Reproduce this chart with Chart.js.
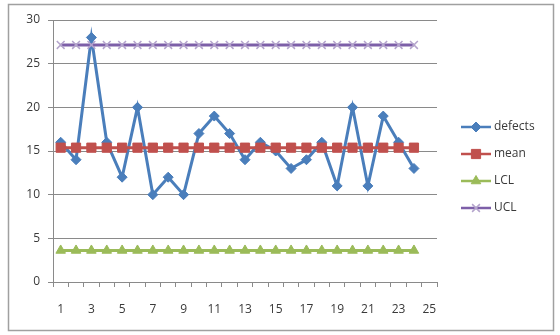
<!DOCTYPE html>
<html>
<head>
<meta charset="utf-8">
<script src="https://cdn.jsdelivr.net/npm/chart.js@4/dist/chart.umd.min.js"></script>
<style>
  html, body { margin: 0; padding: 0; background: #fff; }
  canvas { display: block; }
</style>
</head>
<body>
<canvas id="chart" width="560" height="335"></canvas>
<script>
// category labels on the x axis (25 slots, data in the first 24)
const categories = [1, 2, 3, 4, 5, 6, 7, 8, 9, 10, 11, 12, 13, 14, 15, 16, 17, 18, 19, 20, 21, 22, 23, 24, 25];

const defects = [16, 14, 28, 16, 12, 20, 10, 12, 10, 17, 19, 17, 14, 16, 15, 13, 14, 16, 11, 20, 11, 19, 16, 13];
const mean = [15.38, 15.38, 15.38, 15.38, 15.38, 15.38, 15.38, 15.38, 15.38, 15.38, 15.38, 15.38,
              15.38, 15.38, 15.38, 15.38, 15.38, 15.38, 15.38, 15.38, 15.38, 15.38, 15.38, 15.38];
const lcl = [3.61, 3.61, 3.61, 3.61, 3.61, 3.61, 3.61, 3.61, 3.61, 3.61, 3.61, 3.61,
             3.61, 3.61, 3.61, 3.61, 3.61, 3.61, 3.61, 3.61, 3.61, 3.61, 3.61, 3.61];
const ucl = [27.14, 27.14, 27.14, 27.14, 27.14, 27.14, 27.14, 27.14, 27.14, 27.14, 27.14, 27.14,
             27.14, 27.14, 27.14, 27.14, 27.14, 27.14, 27.14, 27.14, 27.14, 27.14, 27.14, 27.14];

const yTicks = [0, 5, 10, 15, 20, 25, 30];

const FONT = { family: "'Open Sans', 'Liberation Sans', sans-serif", size: 12 };
const TEXT = '#3a3a3a';
const GRID = '#8a8a8a';

// white page + grey frame round the whole chart
const frame = {
  id: 'frame',
  beforeDraw(chart) {
    const ctx = chart.ctx;
    ctx.save();
    ctx.fillStyle = '#fff';
    ctx.fillRect(0, 0, chart.width, chart.height);
    ctx.strokeStyle = '#a0a0a0';
    ctx.lineWidth = 1.5;
    ctx.strokeRect(8.5, 4.5, 545, 326);
    ctx.restore();
  }
};

// excel-like legend: line sample with marker in the middle
const sideLegend = {
  id: 'sideLegend',
  afterDraw(chart) {
    const ctx = chart.ctx;
    const rows = [127, 154, 181, 208];
    ctx.save();
    chart.data.datasets.forEach((ds, i) => {
      const y = rows[i];
      ctx.strokeStyle = ds.borderColor;
      ctx.lineWidth = 2.5;
      ctx.beginPath();
      ctx.moveTo(461, y);
      ctx.lineTo(491, y);
      ctx.stroke();
      ctx.fillStyle = ds.pointBackgroundColor;
      ctx.strokeStyle = ds.pointBorderColor;
      ctx.lineWidth = ds.pointBorderWidth;
      Chart.helpers.drawPoint(ctx, {
        pointStyle: ds.pointStyle,
        radius: ds.pointRadius,
        rotation: 0,
        borderWidth: ds.pointBorderWidth
      }, 476, y);
      ctx.fillStyle = TEXT;
      ctx.font = FONT.size + 'px ' + FONT.family;
      ctx.textBaseline = 'middle';
      ctx.fillText(ds.label, 494, y);
    });
    ctx.restore();
  }
};

new Chart(document.getElementById('chart'), {
  type: 'line',
  data: {
    labels: categories,
    datasets: [
      {
        label: 'defects', data: defects, order: 4,
        borderColor: '#4a7ebb', borderWidth: 3,
        pointStyle: 'rectRot', pointRadius: 5,
        pointBackgroundColor: '#4a7ebb', pointBorderColor: '#4a7ebb', pointBorderWidth: 1
      },
      {
        label: 'mean', data: mean, order: 3,
        borderColor: '#c0504d', borderWidth: 3,
        pointStyle: 'rect', pointRadius: 6.5,
        pointBackgroundColor: '#c0504d', pointBorderColor: '#c0504d', pointBorderWidth: 1
      },
      {
        label: 'LCL', data: lcl, order: 2,
        borderColor: '#9bbb59', borderWidth: 3,
        pointStyle: 'triangle', pointRadius: 5.5,
        pointBackgroundColor: '#9bbb59', pointBorderColor: '#9bbb59', pointBorderWidth: 1
      },
      {
        label: 'UCL', data: ucl, order: 1,
        borderColor: '#7d5fa8', borderWidth: 3,
        pointStyle: 'crossRot', pointRadius: 5.5,
        pointBackgroundColor: '#b4a4cc', pointBorderColor: '#b4a4cc', pointBorderWidth: 1.5
      }
    ]
  },
  options: {
    responsive: false,
    animation: false,
    layout: { padding: { top: 20, right: 123, bottom: 0, left: 0 } },
    plugins: {
      legend: { display: false },
      tooltip: { enabled: false }
    },
    elements: { line: { tension: 0 } },
    scales: {
      x: {
        type: 'category',
        offset: true,
        grid: { offset: true, drawOnChartArea: false, drawTicks: true, tickLength: 5, color: GRID },
        border: { color: GRID, width: 1 },
        ticks: {
          autoSkip: false, maxRotation: 0, padding: 15,
          color: TEXT, font: FONT,
          callback: (v, i) => (i % 2 === 0 ? categories[i] : '')
        },
        afterFit: (scale) => { scale.height = 53; }
      },
      y: {
        min: 0, max: 30,
        afterBuildTicks: (scale) => { scale.ticks = yTicks.map(v => ({ value: v })); },
        grid: { color: GRID, tickLength: 5, drawTicks: true },
        border: { color: GRID, width: 1 },
        ticks: { padding: 8, color: TEXT, font: FONT },
        afterFit: (scale) => { scale.width = 53; }
      }
    }
  },
  plugins: [frame, sideLegend]
});
</script>
</body>
</html>
